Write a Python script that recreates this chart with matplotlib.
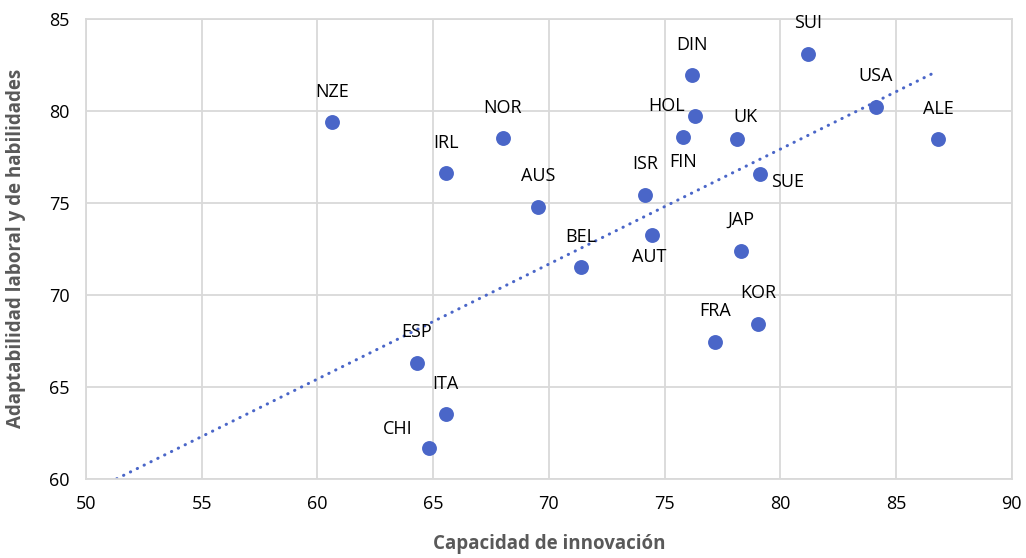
import numpy as np
import matplotlib.pyplot as plt

# datos
paises = ["NZE", "IRL", "NOR", "AUS", "BEL", "ISR", "AUT", "FIN", "DIN", "HOL", "UK",
          "JAP", "SUE", "KOR", "FRA", "SUI", "USA", "ALE", "ESP", "ITA", "CHI"]
innovacion = [60.64, 65.54, 68.02, 69.53, 71.40, 74.16, 74.46, 75.81, 76.20, 76.30, 78.15,
              78.31, 79.11, 79.04, 77.17, 81.20, 84.14, 86.82, 64.30, 65.54, 64.81]
adaptabilidad = [79.38, 76.61, 78.51, 74.80, 71.51, 75.43, 73.25, 78.60, 81.95, 79.74, 78.46,
                 72.40, 76.57, 68.43, 67.44, 83.10, 80.23, 78.46, 66.31, 63.50, 61.66]

# linea de tendencia tal como aparece en el grafico (pendiente e intercepto leidos)
pendiente = 0.625
intercepto = 27.92

# posicion de cada etiqueta (puntos de desplazamiento)
offsets = {"HOL": (-20, 7), "FIN": (0, -18), "UK": (6, 16), "SUE": (20, -6),
           "AUT": (-2, -16), "CHI": (-22, 14)}

azul = "#4A66C8"
gris = "#D9D9D9"
fuente = ['Open Sans', 'DejaVu Sans']

fig = plt.figure(figsize=(10.26, 5.58), dpi=100)
ax = fig.add_axes([0.0838, 0.142, 0.9022, 0.824])

ax.scatter(innovacion, adaptabilidad, s=115, color=azul, zorder=3, linewidths=0)

xt = np.linspace((60 - intercepto) / pendiente, max(innovacion) - 0.1, 100)
ax.plot(xt, pendiente * xt + intercepto, color=azul, lw=2.2, dashes=(0.1, 2.4),
        dash_capstyle="round", zorder=2)

for p, xv, yv in zip(paises, innovacion, adaptabilidad):
    dx, dy = offsets.get(p, (0, 22))
    ax.annotate(p, (xv, yv), xytext=(dx, dy), textcoords="offset points",
                ha="center", va="center", fontsize=13, family=fuente)

ax.set_xlim(50, 90)
ax.set_ylim(60, 85)
ax.set_xticks(np.arange(50, 91, 5))
ax.set_yticks(np.arange(60, 86, 5))
ax.grid(True, color=gris, lw=1.3, zorder=0)
ax.set_axisbelow(True)
for s in ax.spines.values():
    s.set_color(gris)
    s.set_linewidth(1.3)
ax.tick_params(length=0, labelsize=13, pad=12)
for t in ax.get_xticklabels() + ax.get_yticklabels():
    t.set_family(fuente)

ax.set_xlabel("Capacidad de innovación", fontsize=13.5, fontweight="bold", color="#595959",
              family=fuente)
ax.set_ylabel("Adaptabilidad laboral y de habilidades", fontsize=13.5, fontweight="bold",
              color="#595959", family=fuente)
ax.xaxis.set_label_coords(0.5, -0.12)
ax.yaxis.set_label_coords(-0.065, 0.5)

fig.savefig("out.png", dpi=100)
